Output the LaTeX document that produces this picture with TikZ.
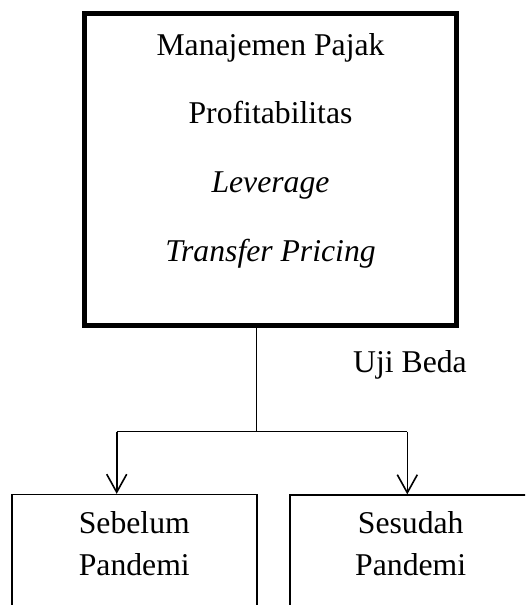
\documentclass[tikz,border=0pt]{standalone}
\usepackage{fontspec}
\setmainfont{Liberation Serif}
\usetikzlibrary{arrows.meta}
\begin{document}
\begin{tikzpicture}[x=1pt,y=-1pt,
  txt/.style={anchor=base,inner sep=0pt,font=\fontsize{31.7}{38}\selectfont},
  bigbox/.style={draw,line width=5pt,minimum width=372.5pt,minimum height=311.5pt,inner sep=0pt},
  smallbox/.style={draw,line width=1.3pt,minimum width=245pt,minimum height=160pt,inner sep=0pt},
  conn/.style={line width=1.4pt},
  arr/.style={line width=1.6pt,-{Straight Barb[length=18pt,width=20pt]}}]
\useasboundingbox (0,0) rectangle (525,605);
\clip (0,0) rectangle (525,605);
\node[bigbox] (top) at (270.3,169.25) {};
\node[txt] (t1) at (270.5,55) {Manajemen Pajak};
\node[txt] (t2) at (270.5,123.3) {Profitabilitas};
\node[txt] (t3) at (270.5,192.7) {\itshape Leverage};
\node[txt] (t4) at (270.5,261.7) {\itshape Transfer Pricing};
\node[txt] (uji) at (410,372.7) {Uji Beda};
\node[smallbox] (left) at (134.5,574.5) {};
\node[smallbox] (right) at (412.5,575) {};
\node[txt] (l1) at (134.3,533.3) {Sebelum};
\node[txt] (l2) at (134.3,575) {Pandemi};
\node[txt] (r1) at (410.7,533.3) {Sesudah};
\node[txt] (r2) at (410.7,575) {Pandemi};
\coordinate (j) at (256.7,431.7);
\coordinate (jl) at (116.7,431.7);
\coordinate (jr) at (407.3,431.7);
\draw[conn] (top.south -| j) -- (j);
\draw[conn] (jl) -- (jr);
\draw[arr] (jl) -- (jl |- left.north);
\draw[arr] (jr) -- (jr |- right.north);
\end{tikzpicture}
\end{document}
